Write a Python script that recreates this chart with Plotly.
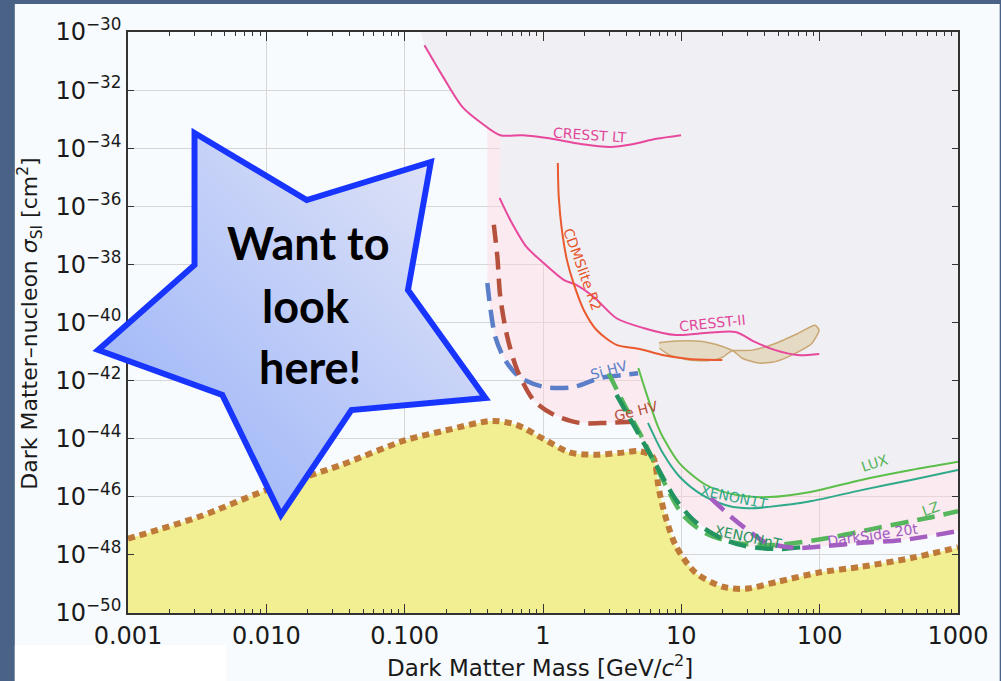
import base64
import math
import plotly.graph_objects as go

# ---------------- axis ticks ----------------
mass_ticks = [0.001, 0.01, 0.1, 1, 10, 100, 1000]
mass_tick_text = ["0.001", "0.010", "0.100", "1", "10", "100", "1000"]
sigma_ticks = [1e-30, 1e-32, 1e-34, 1e-36, 1e-38, 1e-40, 1e-42, 1e-44, 1e-46, 1e-48, 1e-50]
sigma_tick_text = ["10<sup>−30</sup>", "10<sup>−32</sup>", "10<sup>−34</sup>", "10<sup>−36</sup>",
                   "10<sup>−38</sup>", "10<sup>−40</sup>", "10<sup>−42</sup>", "10<sup>−44</sup>",
                   "10<sup>−46</sup>", "10<sup>−48</sup>", "10<sup>−50</sup>"]

# ---------------- curves (mass in GeV, cross section in cm^2) ----------------
floor_mass = [0.001, 0.0033, 0.01, 0.034, 0.1, 0.2, 0.43, 0.65, 1.0, 1.55, 2.35, 3.5, 5.0, 6.2,
              6.9, 7.8, 9.2, 12.7, 19.8, 29, 50, 98, 200, 460, 1000]
floor_sigma = [3.6e-48, 2.1e-47, 1.7e-46, 1.2e-45, 8.7e-45, 1.95e-44, 4.1e-44, 2.95e-44, 1.0e-44,
               3.4e-45, 2.8e-45, 3.2e-45, 3.7e-45, 2.4e-45, 1.7e-46, 1.6e-47, 1.9e-48, 2.4e-49,
               8.1e-50, 6.8e-50, 1.2e-49, 2.45e-49, 3.9e-49, 7.8e-49, 1.8e-48]

cresst_lt_mass = [0.139, 0.190, 0.262, 0.358, 0.491, 0.715, 1.11, 1.87, 3.07, 4.53, 6.6, 9.95]
cresst_lt_sigma = [3.5e-31, 2.8e-32, 2.6e-33, 7.4e-34, 2.8e-34, 2.8e-34, 2.2e-34, 1.4e-34, 1.1e-34,
                   1.4e-34, 2.1e-34, 2.8e-34]

cresst2_mass = [0.485, 0.58, 0.76, 1.01, 1.42, 1.75, 2.33, 3.40, 5.3, 9.15, 15.7, 24.7, 34.3, 47.8,
                68.6, 99.3]
cresst2_sigma = [1.95e-36, 3.4e-37, 4.0e-38, 1.12e-38, 2.9e-39, 1.95e-39, 7.6e-40, 1.4e-40, 6.5e-41,
                 3.7e-41, 4.4e-41, 4.7e-41, 2.1e-41, 1.12e-41, 7.6e-42, 8.3e-42]

cdmslite_mass = [1.28, 1.30, 1.37, 1.49, 1.66, 1.97, 2.44, 3.40, 5.0, 7.3, 11.4, 19.8]
cdmslite_sigma = [3.1e-35, 2.1e-36, 1.5e-37, 1.4e-38, 2.3e-39, 2.7e-40, 5.5e-41, 1.7e-41, 1.23e-41,
                  7.6e-42, 5.5e-42, 5.1e-42]

cresst_contour_mass = [6.88, 9.16, 14.2, 19.8, 23.4, 32.5, 47.8, 70.3, 92.6, 98.9, 87.7, 66.6, 47.8,
                       36.3, 27.5, 23.4, 19.8, 15.9, 11.4, 8.2, 6.95]
cresst_contour_sigma = [2.0e-41, 2.3e-41, 2.2e-41, 1.5e-41, 1.12e-41, 1.12e-41, 1.9e-41, 4.3e-41,
                        8.1e-41, 5.5e-41, 1.9e-41, 8.7e-42, 4.5e-42, 4.0e-42, 5.9e-42, 1.07e-41,
                        6.3e-42, 4.9e-42, 5.1e-42, 7.6e-42, 1.3e-41]

si_hv_mass = [0.396, 0.418, 0.452, 0.532, 0.681, 1.02, 1.66, 2.57, 3.76, 4.87]
si_hv_sigma = [2.3e-39, 2.7e-40, 3.2e-41, 5.1e-42, 1.3e-42, 6.0e-43, 6.0e-43, 1.23e-42, 1.55e-42,
               1.8e-42]

ge_hv_mass = [0.441, 0.468, 0.491, 0.552, 0.651, 0.856, 1.20, 1.83, 2.88, 4.46]
ge_hv_sigma = [2.3e-37, 1.8e-38, 7.6e-40, 3.2e-41, 2.3e-42, 2.1e-43, 6.6e-44, 3.5e-44, 3.5e-44,
               3.8e-44]

lux_mass = [4.89, 5.58, 6.8, 7.35, 9.68, 15.0, 24.7, 42.9, 87.7, 200, 458, 1000]
lux_sigma = [2.7e-42, 3.7e-43, 2.5e-44, 1.15e-44, 1.45e-45, 2.6e-46, 1.17e-46, 9.8e-47, 1.5e-46,
             3.8e-46, 8.3e-46, 1.6e-45]

xenon1t_mass = [5.74, 7.35, 9.68, 14.2, 22.1, 30.8, 42.9, 87.7, 200, 458, 1000]
xenon1t_sigma = [3.5e-44, 3.2e-45, 5.0e-46, 1.15e-46, 4.8e-47, 4.0e-47, 4.5e-47, 7.2e-47, 1.7e-46,
                 3.8e-46, 8.3e-46]

lz_mass = [2.98, 3.88, 5.31, 7.35, 10.3, 15.0, 24.7, 47.8, 115, 262, 600, 1000]
lz_sigma = [1.8e-42, 1.45e-43, 9.1e-45, 3.8e-46, 2.3e-47, 5.6e-48, 2.6e-48, 2.2e-48, 3.8e-48, 8.5e-48,
            1.86e-47, 3.2e-47]

xenonnt_mass = [3.40, 4.73, 6.58, 9.16, 12.7, 19.3, 29.1, 51.9, 85.3]
xenonnt_sigma = [3.2e-43, 2.0e-44, 1.23e-45, 7.8e-47, 1.35e-47, 3.8e-48, 2.0e-48, 1.6e-48, 2.0e-48]

darkside_mass = [16.3, 23.4, 30.1, 40.5, 66.6, 109, 200, 390, 1000]
darkside_sigma = [9.1e-47, 1.86e-47, 7.2e-48, 2.75e-48, 1.74e-48, 2.0e-48, 2.6e-48, 3.2e-48, 6.6e-48]

# excluded region (grey) boundary
excluded_mass = [0.131, 1000, 1000, 458, 200, 87.7, 42.9, 24.7, 15.0, 9.68, 7.35, 6.8, 5.58, 4.89,
                 5.0, 3.40, 2.44, 1.97, 1.66, 1.42, 1.01, 0.76, 0.58, 0.485, 0.491, 0.358, 0.262,
                 0.190, 0.139]
excluded_sigma = [1e-30, 1e-30, 1.6e-45, 8.3e-46, 3.8e-46, 1.5e-46, 9.8e-47, 1.17e-46, 2.6e-46,
                  1.45e-45, 1.15e-44, 2.5e-44, 3.7e-43, 2.7e-42, 1.23e-41, 1.7e-41, 5.5e-41, 2.7e-40,
                  2.3e-39, 2.9e-39, 1.12e-38, 4.0e-38, 3.4e-37, 1.95e-36, 2.8e-34, 7.4e-34, 2.6e-33,
                  2.8e-32, 3.5e-31]

# projected sensitivity region (pink) boundary
sensitivity_mass = [0.396, 1000, 1000, 390, 200, 109, 66.6, 51.9, 29.1, 19.3, 12.7, 9.16, 6.58, 4.73,
                    4.46, 2.88, 1.83, 1.20, 0.856, 0.66, 0.532, 0.452, 0.418, 0.396]
sensitivity_sigma = [5e-34, 5e-34, 6.6e-48, 3.2e-48, 2.6e-48, 2.0e-48, 1.74e-48, 1.6e-48, 2.0e-48,
                     3.8e-48, 1.35e-47, 7.8e-47, 1.23e-45, 2.0e-44, 3.8e-44, 3.5e-44, 3.5e-44,
                     6.6e-44, 2.1e-43, 1.8e-42, 5.1e-42, 3.2e-41, 2.7e-40, 2.3e-39]

# curve labels: text, mass, sigma, angle, colour
curve_labels = [
    ("CRESST LT", 2.17, 2.8e-34, 4, "#e0489a"),
    ("CRESST-II", 16.9, 9.5e-41, -6, "#e0489a"),
    ("CDMSlite R2", 1.94, 6.5e-39, 70, "#e8542a"),
    ("Si HV", 2.98, 2.3e-42, -15, "#5a7ec8"),
    ("Ge HV", 4.7, 8.9e-44, -14, "#b5513c"),
    ("LUX", 250, 1.45e-45, -18, "#52b45a"),
    ("XENON1T", 23.9, 9.8e-47, 12, "#2eaa8a"),
    ("XENONnT", 30.1, 4.2e-48, 12, "#2a9660"),
    ("LZ", 630, 3.8e-47, -20, "#52b45a"),
    ("DarkSide 20t", 241, 4.9e-48, -8, "#a05cc0"),
]

star_lines = ["Want to", "look", "here!"]

# ---------------- geometry ----------------
W, H = 1001, 681
ML, MR, MT, MB = 128, 37, 32, 68
PW, PH = W - ML - MR, H - MT - MB


def px(xp):
    return (xp - ML) / PW


def py(yp):
    return (H - MB - yp) / PH


fig = go.Figure()


def add_line(x, y, color, width=2.0, dash=None, shape="spline"):
    fig.add_trace(go.Scatter(x=x, y=y, mode="lines",
                             line=dict(color=color, width=width, dash=dash, shape=shape, smoothing=0.8),
                             hoverinfo="skip", showlegend=False))


# pink projected region
fig.add_trace(go.Scatter(x=sensitivity_mass, y=sensitivity_sigma, mode="lines", fill="toself",
                         fillcolor="rgba(255,212,224,0.45)", line=dict(width=0),
                         hoverinfo="skip", showlegend=False))
# grey excluded region
fig.add_trace(go.Scatter(x=excluded_mass, y=excluded_sigma, mode="lines", fill="toself",
                         fillcolor="#f0eff4", line=dict(width=0),
                         hoverinfo="skip", showlegend=False))
# neutrino floor fill
fig.add_trace(go.Scatter(x=[floor_mass[0], floor_mass[-1]], y=[1e-53, 1e-53], mode="lines",
                         line=dict(width=0), hoverinfo="skip", showlegend=False))
fig.add_trace(go.Scatter(x=floor_mass, y=floor_sigma, mode="lines", fill="tonexty",
                         fillcolor="#f1ef91", line=dict(width=0, shape="spline", smoothing=0.8),
                         hoverinfo="skip", showlegend=False))
# CRESST-II contour
fig.add_trace(go.Scatter(x=cresst_contour_mass, y=cresst_contour_sigma, mode="lines", fill="toself",
                         fillcolor="rgba(222,204,164,0.6)",
                         line=dict(color="#c9a672", width=1.5, shape="spline", smoothing=0.6),
                         hoverinfo="skip", showlegend=False))

add_line(cresst_lt_mass, cresst_lt_sigma, "#e8489c", 2)
add_line(cresst2_mass, cresst2_sigma, "#e8489c", 2)
add_line(cdmslite_mass, cdmslite_sigma, "#ea5a2e", 2)
add_line(lux_mass, lux_sigma, "#5cbf4a", 2)
add_line(xenon1t_mass, xenon1t_sigma, "#2eaa8a", 2)

# neutrino floor dotted line
add_line(floor_mass, floor_sigma, "#bf7a3a", 6, dash="7px,5px")

# projections (dashed)
add_line(si_hv_mass, si_hv_sigma, "#5a7ec8", 4.5, dash="18px,9px")
add_line(ge_hv_mass, ge_hv_sigma, "#b5513c", 4.5, dash="18px,9px")
add_line(lz_mass, lz_sigma, "#55b65c", 4.5, dash="18px,9px")
add_line(xenonnt_mass, xenonnt_sigma, "#23935f", 4.5, dash="18px,9px")
add_line(darkside_mass, darkside_sigma, "#a45ec2", 4.5, dash="18px,9px")

# curve labels
for text, m, s, ang, col in curve_labels:
    fig.add_annotation(x=math.log10(m), y=math.log10(s), xref="x", yref="y", text=text,
                       showarrow=False, textangle=ang, xanchor="center", yanchor="middle",
                       font=dict(family="DejaVu Sans", size=14, color=col))

# slide panel background
fig.add_shape(type="rect", xref="paper", yref="paper", x0=px(14), x1=px(W + 5), y0=py(H + 5), y1=py(4),
              fillcolor="#f7fbfd", line=dict(width=0), layer="below")
fig.add_shape(type="rect", xref="paper", yref="paper", x0=px(14), x1=px(227), y0=py(H + 5), y1=py(645),
              fillcolor="#ffffff", line=dict(width=0), layer="below")

# star callout (gradient-filled polygon as inline SVG)
star_px = [(195, 133), (308, 200), (433, 162), (410, 290), (488, 398), (353, 410), (282, 515),
           (223, 395), (98, 350), (195, 265)]
pts = " ".join(f"{a},{b}" for a, b in star_px)
svg = (f'<svg xmlns="http://www.w3.org/2000/svg" width="{W}" height="{H}" viewBox="0 0 {W} {H}">'
       '<defs><linearGradient id="g" x1="1" y1="0" x2="0" y2="1">'
       '<stop offset="0" stop-color="#e6e8f7"/><stop offset="1" stop-color="#93aef8"/>'
       '</linearGradient></defs>'
       f'<polygon points="{pts}" fill="url(#g)" stroke="#1834ff" stroke-width="6" '
       'stroke-linejoin="miter"/></svg>')
src = "data:image/svg+xml;base64," + base64.b64encode(svg.encode()).decode()
fig.add_layout_image(dict(source=src, xref="paper", yref="paper", x=px(0), y=py(0),
                          sizex=W / PW, sizey=H / PH, xanchor="left", yanchor="top",
                          sizing="stretch", layer="above"))

for line_text, (cx, cy) in zip(star_lines, [(310, 243), (307, 306), (311, 367)]):
    fig.add_annotation(x=px(cx), y=py(cy), xref="paper", yref="paper", text=f"<b>{line_text}</b>",
                       showarrow=False, xanchor="center", yanchor="middle",
                       font=dict(family="Lato", size=45, color="#000000"))

# axis titles
fig.add_annotation(x=px(543), y=py(666), xref="paper", yref="paper",
                   text="Dark Matter Mass [GeV/<i>c</i><sup>2</sup>]", showarrow=False,
                   xanchor="center", yanchor="middle",
                   font=dict(family="DejaVu Sans", size=23, color="#1a1a1a"))
fig.add_annotation(x=px(29), y=py(324), xref="paper", yref="paper", textangle=-90,
                   text="Dark Matter–nucleon <i>σ</i><sub>SI</sub> [cm<sup>2</sup>]", showarrow=False,
                   xanchor="center", yanchor="middle",
                   font=dict(family="DejaVu Sans", size=22, color="#1a1a1a"))

minor_vals = [k * d for d in [0.001, 0.01, 0.1, 1, 10, 100] for k in range(2, 10)]

fig.update_xaxes(type="log", range=[-3, 3], tickmode="array", tickvals=mass_ticks,
                 ticktext=mass_tick_text, ticks="inside", ticklen=9, tickwidth=1.3, tickcolor="#333",
                 showline=True, linecolor="#333", linewidth=1.5, mirror="ticks",
                 showgrid=True, gridcolor="#d6d6d6", gridwidth=1.3, zeroline=False,
                 tickfont=dict(family="DejaVu Sans", size=24, color="#1a1a1a"),
                 minor=dict(tickmode="array", tickvals=minor_vals, ticks="inside", ticklen=4,
                            tickwidth=1.2, tickcolor="#333", showgrid=False))
fig.update_yaxes(type="log", range=[-50, -30], tickmode="array", tickvals=sigma_ticks,
                 ticktext=sigma_tick_text, ticks="inside", ticklen=6, tickwidth=1.3, tickcolor="#333",
                 showline=True, linecolor="#333", linewidth=1.5, mirror="ticks",
                 showgrid=True, gridcolor="#d6d6d6", gridwidth=1.3, zeroline=False,
                 tickfont=dict(family="DejaVu Sans", size=24, color="#1a1a1a"))

fig.update_layout(width=W, height=H, margin=dict(l=ML, r=MR, t=MT, b=MB),
                  paper_bgcolor="#4a6286", plot_bgcolor="#f8fcfe", showlegend=False,
                  hovermode=False)

fig.write_html("out.html", config={"displayModeBar": False},
               post_script="document.body.style.margin='0px';document.body.style.padding='0px';"
                           "document.body.style.overflow='hidden';")
